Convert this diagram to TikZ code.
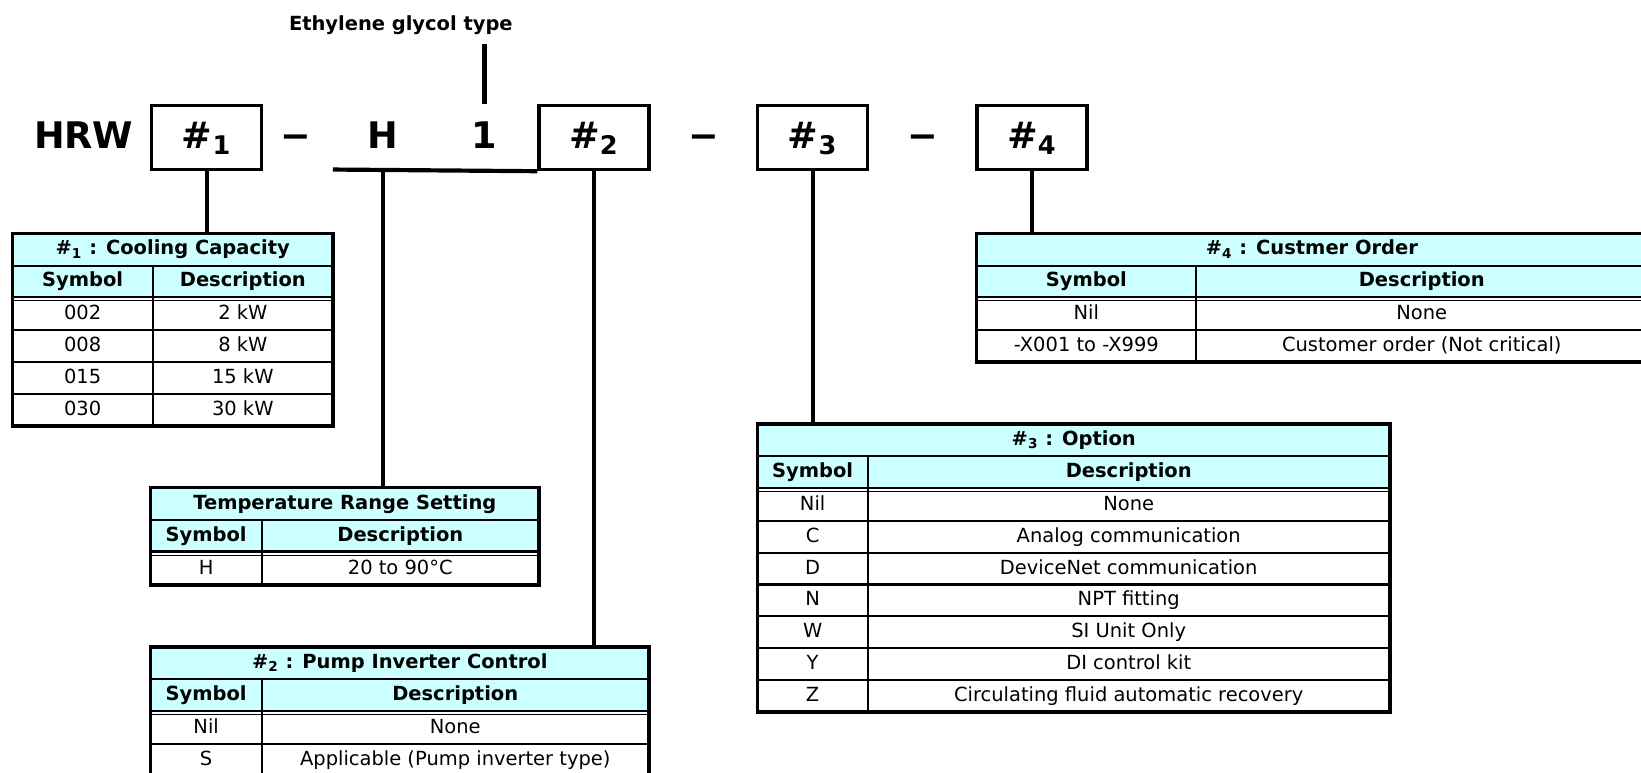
\documentclass[tikz,border=0pt]{standalone}
\usepackage{fontspec}
\setmainfont{DejaVu Sans}
\usetikzlibrary{positioning}
\definecolor{hdrcyan}{HTML}{CCFFFF}

\begin{document}
\begin{tikzpicture}[
    x=0.5pt, y=-0.5pt,
    every node/.style={inner sep=0pt, text height=7pt, text depth=2pt, font=\fontsize{9.3}{11}\selectfont},
    code/.style={font=\fontsize{17.5}{21}\selectfont\bfseries, text height=13pt, text depth=3pt},
    codebox/.style={code, draw, line width=1.6pt, minimum width=52.5pt, minimum height=30.5pt},
    hd/.style={font=\fontsize{9.3}{11}\selectfont\bfseries},
    lead/.style={line width=2pt},
    grid/.style={line width=1pt},
    frame/.style={line width=1.7pt}
]
\useasboundingbox (0,0) rectangle (1568,738);
\clip (0,0) rectangle (1568,738);

% model code
\node[code] (hrw) at (80,131.5) {HRW};
\node[codebox] (b1) at (197.5,131.5) {\#\textsubscript{1}};
\node[code] (d1) at (283,131.5) {−};
\node[code] (hh) at (366,131.5) {H};
\node[code] (one) at (463,131.5) {1};
\node[codebox] (b2) at (567.5,131.5) {\#\textsubscript{2}};
\node[code] (d2) at (673,131.5) {−};
\node[codebox] (b3) at (776.5,131.5) {\#\textsubscript{3}};
\node[code] (d3) at (882,131.5) {−};
\node[codebox] (b4) at (986,131.5) {\#\textsubscript{4}};
\node[hd, outer sep=4.5pt] (eth) at (383,24) {Ethylene glycol type};

% #1 : cooling capacity
\fill[hdrcyan] (12,223) rectangle (318,284);
\draw[grid] (12,254) -- (318,254) (12,284) -- (318,284) (146,254) -- (146,407);
\draw[thin] (12,287.5) -- (318,287.5);
\foreach \i in {1,2,3} \draw[grid] (12,285+30.5*\i) -- (318,285+30.5*\i);
\draw[frame] (12,223) coordinate (capNW) rectangle (318,407);
\node[hd] (capT) at (165,238.5) {\#\textsubscript{1} : Cooling Capacity};
\node[hd] (capS) at (79,269) {Symbol};
\node[hd] (capD) at (232,269) {Description};
\foreach \s/\d [count=\i] in {002/2 kW, 008/8 kW, 015/15 kW, 030/30 kW} {
    \node (cap\i s) at (79,270+30.5*\i) {\s};
    \node (cap\i d) at (232,270+30.5*\i) {\d};
}

% temperature range
\fill[hdrcyan] (144,466) rectangle (515,527);
\draw[grid] (144,497) -- (515,497) (144,527) -- (515,527) (250,497) -- (250,559);
\draw[thin] (144,530.5) -- (515,530.5);
\draw[frame] (144,466) coordinate (tmpNW) rectangle (515,559);
\node[hd] (tmpT) at (329.5,481.5) {Temperature Range Setting};
\node[hd] (tmpS) at (197,512) {Symbol};
\node[hd] (tmpD) at (382.5,512) {Description};
\node (tmp1s) at (197,543.5) {H};
\node (tmp1d) at (382.5,543.5) {20 to 90°C};

% #2 : pump inverter control
\fill[hdrcyan] (144,618) rectangle (620,679);
\draw[grid] (144,649) -- (620,649) (144,679) -- (620,679) (250,649) -- (250,742);
\draw[thin] (144,682.5) -- (620,682.5);
\draw[grid] (144,710.5) -- (620,710.5);
\draw[frame] (144,618) coordinate (pmpNW) rectangle (620,741);
\node[hd] (pmpT) at (382,633.5) {\#\textsubscript{2} : Pump Inverter Control};
\node[hd] (pmpS) at (197,664) {Symbol};
\node[hd] (pmpD) at (435,664) {Description};
\foreach \s/\d [count=\i] in {Nil/None, S/Applicable (Pump inverter type)} {
    \node (pmp\i s) at (197,665+30.5*\i) {\s};
    \node (pmp\i d) at (435,665+30.5*\i) {\d};
}

% #3 : option
\fill[hdrcyan] (724,405) rectangle (1328,466);
\draw[grid] (724,436) -- (1328,436) (724,466) -- (1328,466) (829,436) -- (829,681);
\draw[thin] (724,469.5) -- (1328,469.5);
\foreach \i in {1,...,6} \draw[grid] (724,467+30.5*\i) -- (1328,467+30.5*\i);
\draw[frame] (724,405) coordinate (optNW) rectangle (1328,680.5);
\node[hd] (optT) at (1026,420.5) {\#\textsubscript{3} : Option};
\node[hd] (optS) at (776.5,451) {Symbol};
\node[hd] (optD) at (1078.5,451) {Description};
\foreach \s/\d [count=\i] in {Nil/None, C/Analog communication, D/DeviceNet communication,
    N/NPT fitting, W/SI Unit Only, Y/DI control kit, Z/Circulating fluid automatic recovery} {
    \node (opt\i s) at (776.5,452+30.5*\i) {\s};
    \node (opt\i d) at (1078.5,452+30.5*\i) {\d};
}

% #4 : customer order
\fill[hdrcyan] (933,223) rectangle (1574,284);
\draw[grid] (933,254) -- (1574,254) (933,284) -- (1574,284) (1143,254) -- (1143,346);
\draw[thin] (933,287.5) -- (1574,287.5);
\draw[grid] (933,315.5) -- (1574,315.5);
\draw[frame] (933,223) coordinate (ordNW) rectangle (1574,346);
\node[hd] (ordT) at (1253.5,238.5) {\#\textsubscript{4} : Custmer Order};
\node[hd] (ordS) at (1038,269) {Symbol};
\node[hd] (ordD) at (1358.5,269) {Description};
\foreach \s/\d [count=\i] in {Nil/None, -X001 to -X999/Customer order (Not critical)} {
    \node (ord\i s) at (1038,270+30.5*\i) {\s};
    \node (ord\i d) at (1358.5,270+30.5*\i) {\d};
}

% leads
\coordinate (ubar) at (318,162);
\draw[lead] (ubar) -- (b2.south west);
\draw[lead] (one |- b2.north) -- (one |- eth.south);
\draw[lead] (b1.south) -- (b1.south |- capNW);
\draw[lead] (hh |- ubar) -- (hh |- tmpNW);
\draw[lead] (b2.south) -- (b2.south |- pmpNW);
\draw[lead] (b3.south) -- (b3.south |- optNW);
\draw[lead] (b4.south) -- (b4.south |- ordNW);
\end{tikzpicture}
\end{document}
